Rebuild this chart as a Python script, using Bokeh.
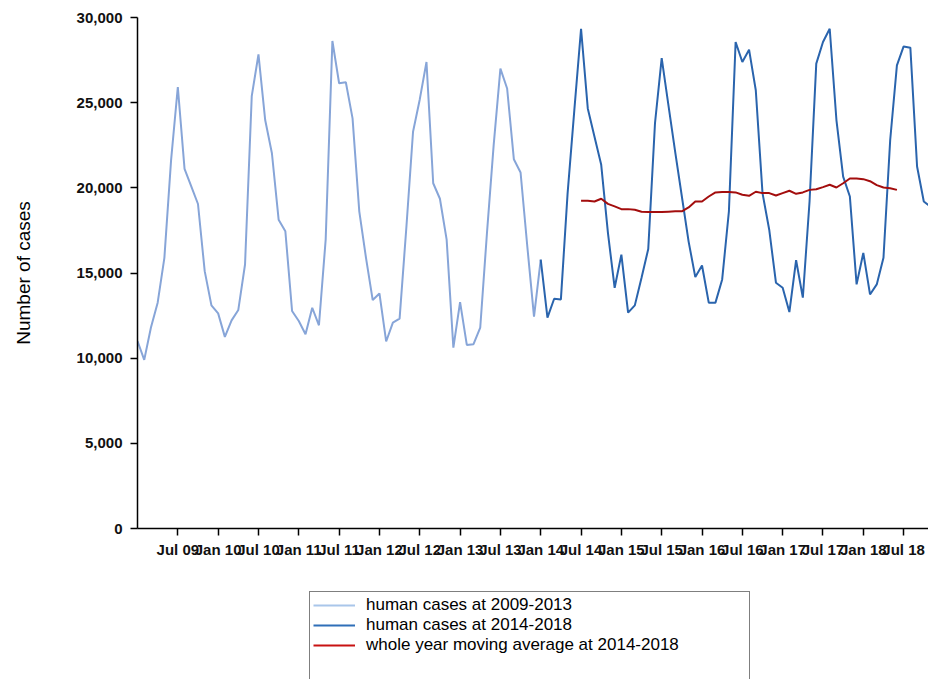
from bokeh.plotting import figure
from bokeh.layouts import column
from bokeh.models import Range1d, FixedTicker, NumeralTickFormatter, Legend, LegendItem
from bokeh.embed import file_html
from bokeh.resources import INLINE

# Month index: 0 = Jan 2009, 1 = Feb 2009, ...
light_months = list(range(0, 61))
light_cases = [11010, 9900, 11800, 13260, 15890, 21640, 25920, 21110, 20080, 19050,
               15110, 13100, 12630, 11250, 12220, 12830, 15500, 25380, 27840, 23980,
               22030, 18130, 17450, 12770, 12180, 11400, 12960, 11930, 16960, 28620,
               26140, 26200, 24080, 18620, 15890, 13410, 13800, 10980, 12090, 12320,
               17640, 23290, 25190, 27390, 20270, 19360, 16960, 10620, 13290, 10780,
               10820, 11800, 17350, 22520, 27000, 25830, 21680, 20900, 16570, 12440,
               15790]

dark_months = list(range(60, 119))
dark_cases = [15790, 12380, 13490, 13450, 19690, 24560, 29340, 24660, 23000, 21350,
              17350, 14130, 16080, 12670, 13100, 14720, 16410, 23780, 27620, 24850,
              22120, 19490, 16860, 14760, 15440, 13260, 13260, 14620, 18620, 28560,
              27390, 28110, 25730, 19690, 17540, 14430, 14130, 12710, 15750, 13550,
              19200, 27290, 28560, 29340, 23980, 20660, 19490, 14330, 16180, 13740,
              14330, 15890, 22810, 27190, 28300, 28230, 21250, 19200, 18900]

avg_months = list(range(66, 114))
avg_cases = [19240, 19240, 19200, 19360, 19060, 18910, 18750, 18750, 18710, 18600,
             18580, 18580, 18580, 18600, 18620, 18620, 18850, 19200, 19200, 19490,
             19730, 19750, 19750, 19730, 19590, 19530, 19770, 19690, 19690, 19550,
             19690, 19830, 19650, 19730, 19880, 19920, 20040, 20180, 20020, 20270,
             20550, 20550, 20510, 20390, 20160, 20020, 19980, 19880]

tick_months = [6, 12, 18, 24, 30, 36, 42, 48, 54, 60, 66, 72, 78, 84, 90, 96, 102, 108, 114]
tick_labels = ["Jul 09", "Jan 10", "Jul 10", "Jan 11", "Jul 11", "Jan 12", "Jul 12",
               "Jan 13", "Jul 13", "Jan 14", "Jul 14", "Jan 15", "Jul 15", "Jan 16",
               "Jul 16", "Jan 17", "Jul 17", "Jan 18", "Jul 18"]
y_ticks = [0, 5000, 10000, 15000, 20000, 25000, 30000]

legend_labels = ["human cases at 2009-2013", "human cases at 2014-2018",
                 "whole year moving average at 2014-2018"]

FONT = "Liberation Sans"

# ---------------- main chart ----------------
p = figure(width=928, height=560, output_backend="svg", toolbar_location=None,
           x_range=Range1d(0, 117.7), y_range=Range1d(0, 30000),
           min_border_left=137, min_border_top=17, min_border_right=0,
           min_border_bottom=30)
p.xgrid.visible = False
p.ygrid.visible = False
p.outline_line_color = None
p.background_fill_color = "white"
p.border_fill_color = "white"

p.line(light_months, light_cases, line_color="#87a5d8", line_width=2)
p.line(dark_months, dark_cases, line_color="#2a64ad", line_width=2)
p.line(avg_months, avg_cases, line_color="#a30d0d", line_width=2)

for ax in (p.xaxis[0], p.yaxis[0]):
    ax.axis_line_color = "black"
    ax.axis_line_width = 1.5
    ax.major_tick_line_color = "black"
    ax.major_tick_line_width = 1.5
    ax.major_tick_in = 0
    ax.major_tick_out = 7
    ax.minor_tick_line_color = None
    ax.major_label_text_font = FONT
    ax.major_label_text_font_style = "bold"
    ax.major_label_text_font_size = "15px"
    ax.major_label_text_color = "#111111"

xa = p.xaxis[0]
xa.ticker = FixedTicker(ticks=tick_months)
xa.major_label_overrides = {m: lab for m, lab in zip(tick_months, tick_labels)}
xa.major_label_standoff = 5

ya = p.yaxis[0]
ya.ticker = FixedTicker(ticks=y_ticks)
ya.formatter = NumeralTickFormatter(format="0,0")
ya.major_label_standoff = 8
ya.axis_label = "Number of cases"
ya.axis_label_text_font = FONT
ya.axis_label_text_font_style = "normal"
ya.axis_label_text_font_size = "19px"
ya.axis_label_text_color = "black"
ya.axis_label_standoff = 40

# ---------------- legend strip below ----------------
lg = figure(width=928, height=119, output_backend="svg", toolbar_location=None,
            x_range=Range1d(0, 1), y_range=Range1d(0, 1),
            x_axis_location=None, y_axis_location=None,
            min_border_left=0, min_border_top=0, min_border_right=0,
            min_border_bottom=0)
lg.xgrid.visible = False
lg.ygrid.visible = False
lg.outline_line_color = None
lg.background_fill_color = "white"
lg.border_fill_color = "white"

# legend swatches only (their points lie outside the strip's ranges)
sw_x = [5, 6]
sw_y = [5, 6]
g1 = lg.line(sw_x, sw_y, line_color="#a9c6ea", line_width=2)
g2 = lg.line(sw_x, sw_y, line_color="#2f6fb8", line_width=2)
g3 = lg.line(sw_x, sw_y, line_color="#c81212", line_width=2)
e1 = lg.line(sw_x, sw_y, line_alpha=0)
e2 = lg.line(sw_x, sw_y, line_alpha=0)

legend = Legend(
    items=[LegendItem(label=legend_labels[0], renderers=[g1]),
           LegendItem(label=legend_labels[1], renderers=[g2]),
           LegendItem(label=legend_labels[2], renderers=[g3]),
           LegendItem(label=" ", renderers=[e1]),
           LegendItem(label=" ", renderers=[e2])],
    location=(172, -20),
    label_text_font=FONT, label_text_font_size="17px", label_text_color="black",
    glyph_width=42, glyph_height=20, label_height=20, label_standoff=11,
    label_width=380, padding=3, spacing=0, margin=0,
    border_line_color="black", border_line_width=1,
    background_fill_color="white", background_fill_alpha=1.0,
)
lg.add_layout(legend)

layout = column(p, lg, spacing=0)
open("out.html", "w").write(file_html(layout, INLINE))
